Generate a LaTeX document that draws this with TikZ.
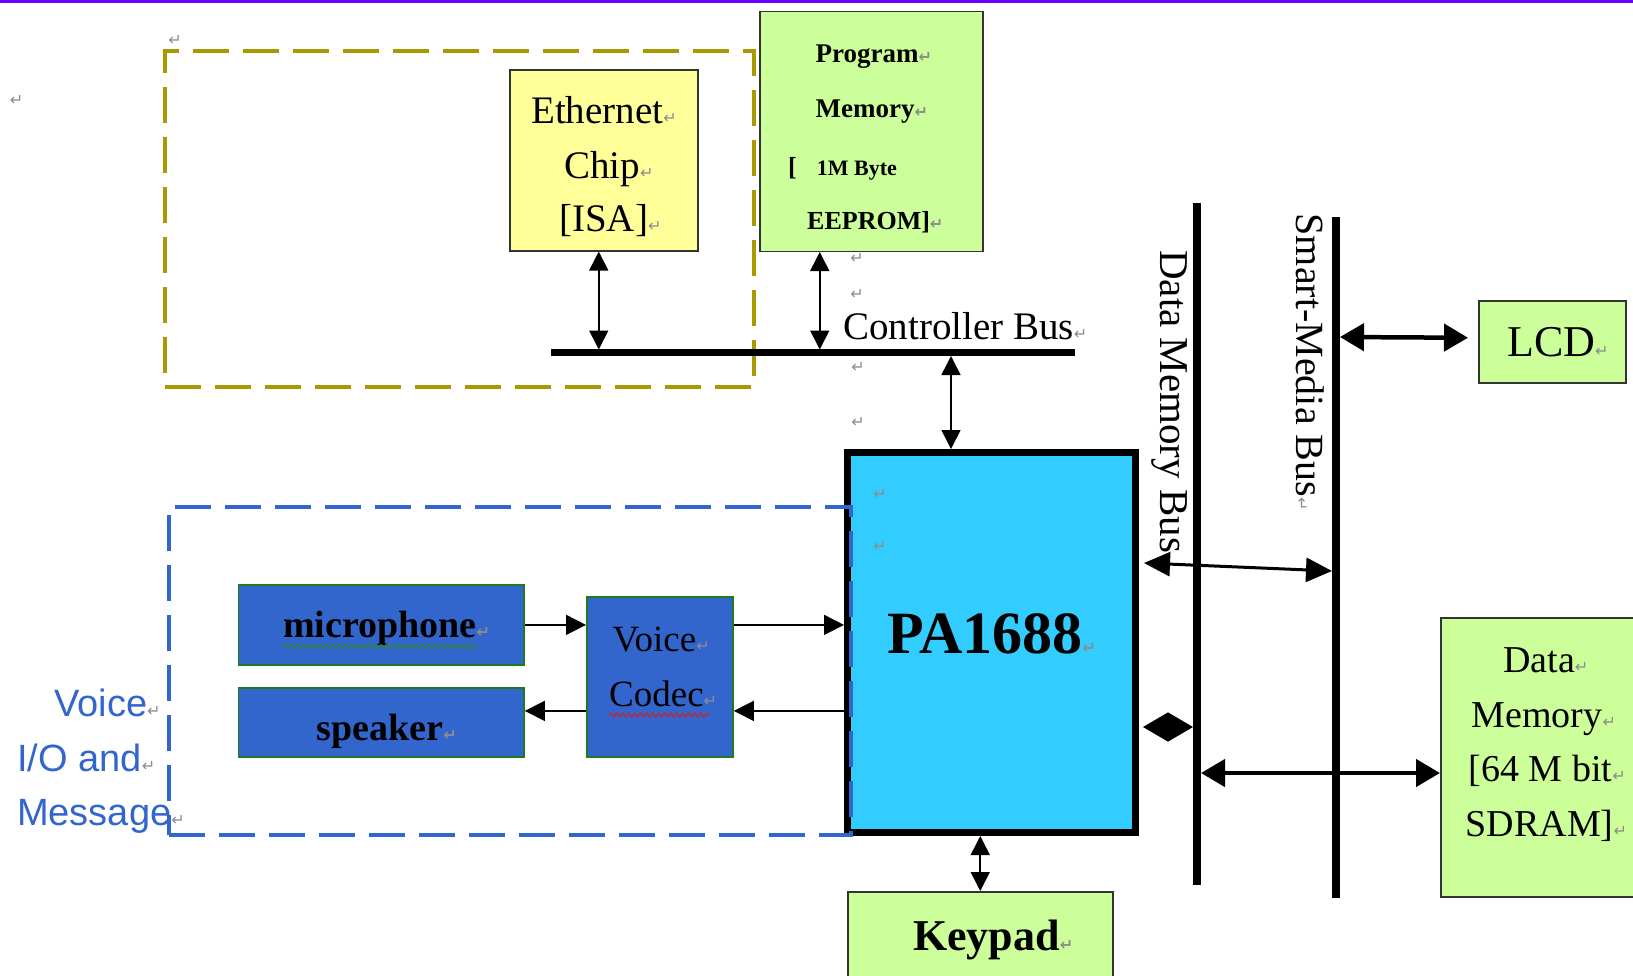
\documentclass[tikz,border=0pt]{standalone}
\usepackage{fontspec}
\setmainfont{Liberation Serif}
\newfontfamily\sansvoice{Liberation Sans}
\newfontfamily\symfont{DejaVu Sans}
\usetikzlibrary{arrows.meta,decorations.pathmorphing,calc}
\definecolor{purpleline}{HTML}{6A00FF}
\definecolor{ethyellow}{HTML}{FFFF99}
\definecolor{memgreen}{HTML}{CCFF99}
\definecolor{pacyan}{HTML}{33CCFF}
\definecolor{audioblue}{HTML}{3366CC}
\definecolor{olivedash}{HTML}{A89A00}
\definecolor{bluedash}{HTML}{3366CC}
\definecolor{boxedge}{HTML}{333333}
\definecolor{audioedge}{HTML}{1E7A1E}
\definecolor{markgray}{HTML}{8C8C8C}
\definecolor{wavegreen}{HTML}{2E8B2E}
\definecolor{wavered}{HTML}{D02020}
\newcommand{\retmark}{{\symfont\fontsize{16}{16}\selectfont\textcolor{markgray}{↵}}}
\newcommand{\fsz}[2]{\fontsize{#1}{#2}\selectfont}
\begin{document}
\begin{tikzpicture}[x=1pt,y=-1pt,
 box/.style={draw=boxedge,line width=1.5pt,inner sep=0pt,anchor=north west},
 audiobox/.style={draw=audioedge,line width=1.8pt,fill=audioblue,inner sep=0pt,anchor=north west},
 txt/.style={inner sep=0pt,anchor=base west},
 grp/.style={line width=4pt,dash pattern=on 36pt off 14pt,inner sep=0pt,anchor=north west},
 busline/.style={line width=8pt},
 thinarr/.style={line width=1.6pt,{Triangle[length=19pt,width=19pt]}-{Triangle[length=19pt,width=19pt]}},
 onearr/.style={line width=1.6pt,-{Triangle[length=20pt,width=20pt]}},
 medarr/.style={line width=3pt,{Triangle[length=26pt,width=24pt]}-{Triangle[length=26pt,width=24pt]}},
 bigarr/.style={line width=4.5pt,{Triangle[length=24pt,width=27pt]}-{Triangle[length=24pt,width=27pt]}},
 diamarr/.style={line width=1pt,{Triangle[length=25pt,width=29pt]}-{Triangle[length=25pt,width=29pt]}},
 pmark/.style={inner sep=0pt,text=markgray,font=\symfont\fontsize{16}{16}\selectfont},
 wave/.style={line width=1.1pt,decorate,decoration={snake,amplitude=2pt,segment length=6pt}},
]
\useasboundingbox (0,0) rectangle (1633,975);
\fill[white] (0,0) rectangle (1633,975);
\fill[purpleline] (0,0) rectangle (1633,3);

% network group
\node[grp, draw=olivedash, minimum width=589pt, minimum height=336pt] (netgrp) at (163,49) {};

% boxes top
\node[box, fill=ethyellow, minimum width=188pt, minimum height=181pt] (eth) at (509,69) {};
\node[box, fill=memgreen, minimum width=223pt, minimum height=240pt] (prog) at (759,10.5) {};

\node[txt,font=\fsz{39}{39}] (eth1) at (531,123) {Ethernet\retmark};
\node[txt,font=\fsz{39}{39}] (eth2) at (564,178) {Chip\retmark};
\node[txt,font=\fsz{39}{39}] (eth3) at (559,231) {[ISA]\retmark};

\node[txt,font=\bfseries\fsz{27}{27}] (prog1) at (815.5,62.5) {Program\retmark};
\node[txt,font=\bfseries\fsz{27}{27}] (prog2) at (815.5,117.5) {Memory\retmark};
\node[txt,font=\bfseries\fsz{26}{26}] (prog3) at (788,175) {[\hspace{20pt}{\fsz{22}{22}1M Byte}};
\node[txt,font=\bfseries\fsz{26}{26}] (prog4) at (807,229) {EEPROM]\retmark};

% controller bus
\coordinate (cbL) at (551,352);
\coordinate (cbR) at (1075,352);
\draw[line width=7pt] (cbL) -- (cbR);
\node[txt,font=\fsz{39}{39}] (cblabel) at (843,339.5) {Controller Bus\retmark};

\draw[thinarr] ($(eth.south)+(-5,0)$) -- ($(eth.south)+(-5,98)$);
\draw[thinarr] ($(prog.south)+(-51.5,0)$) -- ($(prog.south)+(-51.5,97.5)$);

% PA1688
\node[draw=black, line width=7pt, fill=pacyan, inner sep=0pt, anchor=north west,
      minimum width=288pt, minimum height=380pt] (pa) at (844,449) {};
\node[txt,font=\bfseries\fsz{60}{60}] (patxt) at (887,653) {PA1688\retmark};
\coordinate (cbtap) at (951,356);
\draw[thinarr] (cbtap) -- (cbtap |- pa.north);

% audio group
\node[audiobox, minimum width=285.5pt, minimum height=80pt] (mic) at (237.5,584) {};
\node[audiobox, minimum width=285.5pt, minimum height=69pt] (spk) at (237.5,687) {};
\node[audiobox, minimum width=146pt, minimum height=160pt] (codec) at (586,596) {};
\node[txt,font=\bfseries\fsz{38}{38}] (mictxt) at (283,637.5) {microphone\retmark};
\node[txt,font=\bfseries\fsz{38}{38}] (spktxt) at (316.5,740.5) {speaker\retmark};
\node[txt,font=\fsz{37}{37}] (codec1) at (612.5,651) {Voice\retmark};
\node[txt,font=\fsz{37}{37}] (codec2) at (609,706) {Codec\retmark};
\draw[wave, draw=wavegreen] ($(mictxt.base west)+(0,9)$) -- ($(mictxt.base west)+(194,9)$);
\draw[wave, draw=wavered] ($(codec2.base west)+(0,9)$) -- ($(codec2.base west)+(100,9)$);

\draw[onearr] (mic.east) -- (mic.east -| codec.west);
\draw[onearr] (codec.east |- mic.east) -- (mic.east -| pa.west);
\coordinate (lowtap) at ($(spk.east)+(0,-11.5)$);
\draw[onearr] (pa.west |- lowtap) -- (codec.east |- lowtap);
\draw[onearr] (codec.west |- lowtap) -- (lowtap);

\node[grp, draw=bluedash, line width=3.5pt, minimum width=682pt, minimum height=328pt] (voicegrp) at (167,505) {};
\node[txt,font=\sansvoice\fsz{38}{38},text=bluedash] (vio1) at (54,716) {Voice\retmark};
\node[txt,font=\sansvoice\fsz{38}{38},text=bluedash] (vio2) at (17,771) {I/O and\retmark};
\node[txt,font=\sansvoice\fsz{38}{38},text=bluedash] (vio3) at (17,825) {Message\retmark};

% buses
\coordinate (dmbT) at (1197,203);
\coordinate (dmbB) at (1197,885);
\coordinate (smbT) at (1336,217);
\coordinate (smbB) at (1336,898);
\draw[busline] (dmbT) -- (dmbB);
\draw[busline] (smbT) -- (smbB);
\node[txt,font=\fsz{41}{41},rotate=-90] (dmblabel) at (1160,250) {Data Memory Bus\retmark};
\node[txt,font=\fsz{40}{40},rotate=-90] (smblabel) at (1296.5,213.5) {Smart-Media Bus\retmark};

% LCD
\node[box, fill=memgreen, minimum width=147pt, minimum height=82pt] (lcd) at (1478,300) {};
\node[txt,font=\fsz{44}{44}] (lcdtxt) at (1507,356) {LCD\retmark};
\draw[bigarr] ($(smbT)+(4,120)$) -- ($(lcd.west)+(-10,-4)$);

% Data memory
\node[box, fill=memgreen, minimum width=220pt, minimum height=279pt] (dm) at (1440,617) {};
\node[txt,font=\fsz{38}{38}] (dm1) at (1503,672) {Data\retmark};
\node[txt,font=\fsz{38}{38}] (dm2) at (1471.5,727) {Memory\retmark};
\node[txt,font=\fsz{38}{38}] (dm3) at (1468.5,781) {[64 M bit\retmark};
\node[txt,font=\fsz{38}{38}] (dm4) at (1465.5,836) {SDRAM]\retmark};
\draw[bigarr] ($(dmbT)+(4,570)$) -- ($(dm.north west)+(0,156)$);

% PA to buses
\draw[medarr] ($(pa.north east)+(5,114)$) -- ($(smbT)+(-4,354)$);
\draw[diamarr] ($(pa.north east)+(4,278)$) -- ($(dmbT)+(-4,524)$);

% Keypad
\node[box, fill=memgreen, minimum width=265pt, minimum height=120pt] (kp) at (847,891) {};
\node[txt,font=\bfseries\fsz{44}{44}] (kptxt) at (913,950) {Keypad\retmark};
\draw[thinarr] (pa.south -| kp.north) -- (kp.north);

% stray paragraph marks
\node[pmark] (pm1) at (16.5,100) {↵};
\node[pmark] (pm2) at (175,40.5) {↵};
\node[pmark] (pm3) at (857,258) {↵};
\node[pmark] (pm4) at (857,294) {↵};
\node[pmark] (pm5) at (858,367) {↵};
\node[pmark] (pm6) at (858,422) {↵};
\node[pmark] (pm7) at (880,494) {↵};
\node[pmark] (pm8) at (880,546) {↵};
\end{tikzpicture}
\end{document}
